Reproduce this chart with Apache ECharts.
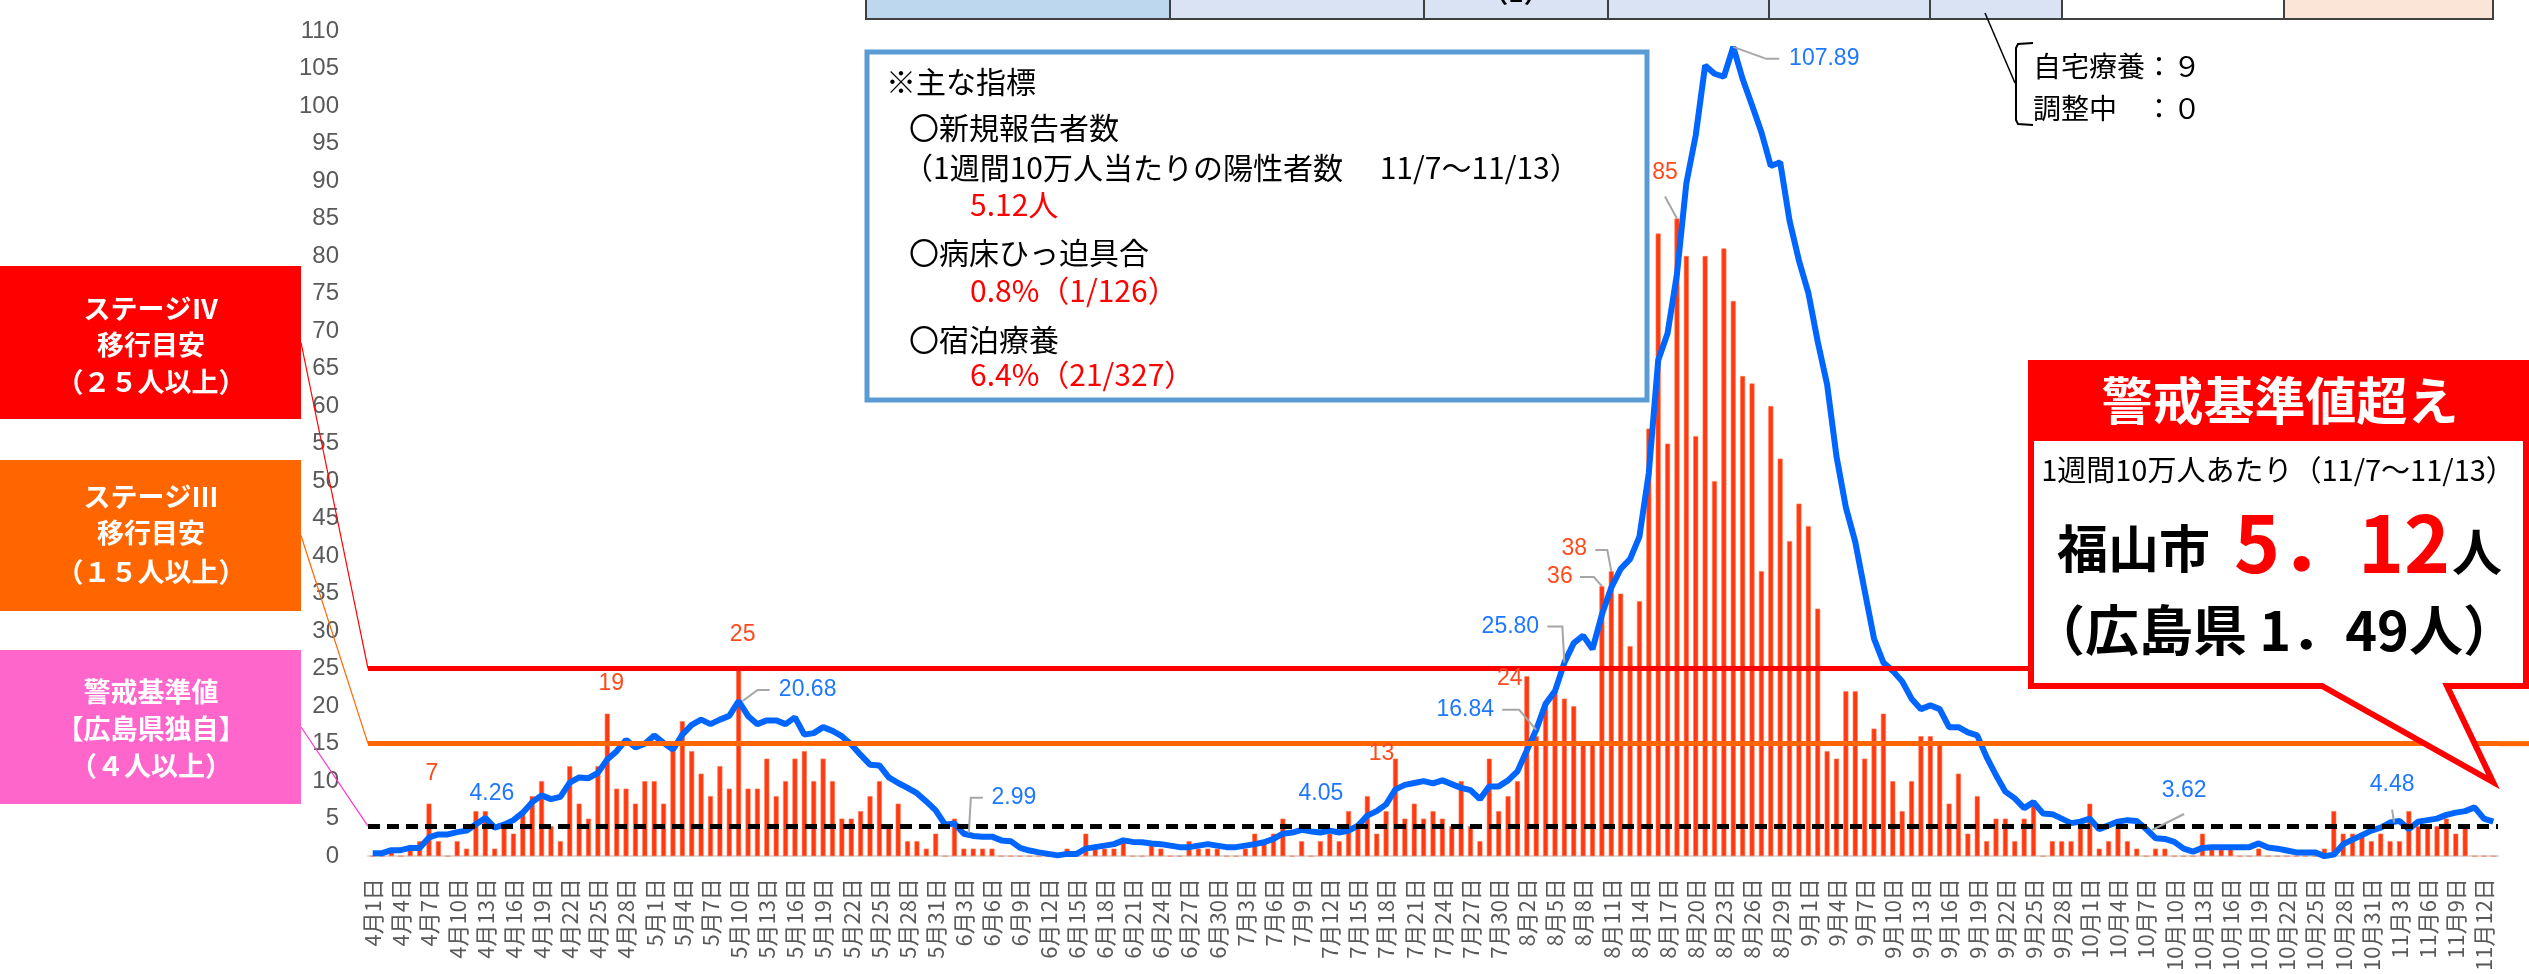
<!DOCTYPE html>
<html>
<head>
<meta charset="utf-8">
<script src="https://cdn.jsdelivr.net/npm/echarts@6/dist/echarts.min.js"></script>
<style>
  html, body { margin: 0; padding: 0; background: #fff; }
  #main { width: 2529px; height: 974px; }
</style>
</head>
<body>
<div id="main"></div>
<script>
// 月ごとの日数（4/1〜11/13）
var monthDays = [[4, 30], [5, 31], [6, 30], [7, 31], [8, 31], [9, 30], [10, 31], [11, 13]];
var categories = [];
monthDays.forEach(function (m) {
  for (var d = 1; d <= m[1]; d++) categories.push(m[0] + '月' + d + '日');
});

// 新規陽性者数（日別）
var dailyCases = [
  0, 0, 1, 0, 1, 2, 7, 2, 0, 2,
  1, 6, 6, 1, 4, 3, 6, 8, 10, 4,
  2, 12, 7, 5, 12, 19, 9, 9, 7, 10,
  10, 7, 15, 18, 14, 11, 8, 12, 9, 25,
  9, 9, 13, 8, 10, 13, 14, 10, 13, 10,
  5, 5, 6, 8, 10, 4, 7, 2, 2, 1,
  3, 0, 5, 1, 1, 1, 1, 0, 0, 0,
  0, 0, 0, 0, 1, 0, 3, 1, 1, 1,
  2, 0, 0, 2, 1, 0, 0, 2, 1, 1,
  1, 0, 0, 1, 3, 2, 3, 5, 0, 2,
  0, 2, 3, 2, 6, 4, 8, 3, 6, 13,
  5, 7, 5, 6, 5, 4, 10, 4, 2, 13,
  6, 8, 10, 24, 16, 20, 22, 21, 20, 15,
  15, 36, 38, 35, 28, 34, 57, 83, 55, 85,
  80, 56, 80, 50, 81, 74, 64, 63, 38, 60,
  53, 42, 47, 44, 33, 14, 13, 22, 22, 13,
  17, 19, 10, 6, 10, 16, 16, 15, 7, 11,
  3, 8, 2, 5, 5, 2, 5, 7, 0, 2,
  2, 2, 4, 7, 1, 2, 4, 2, 1, 0,
  1, 1, 0, 0, 0, 3, 1, 1, 1, 0,
  0, 1, 0, 0, 0, 0, 0, 0, 1, 6,
  3, 3, 3, 2, 3, 2, 2, 6, 4, 4,
  4, 5, 3, 4, 0, 0, 0
];

// 1週間10万人当たりの陽性者数
var weeklyPer100k = [
  0.4, 0.4, 0.8, 0.8, 1.1, 1.1, 2.5, 2.9, 2.9, 3.2,
  3.4, 4.26, 5.1, 3.8, 4.2, 4.8, 5.8, 7.2, 8.1, 7.6,
  7.9, 9.8, 10.5, 10.4, 11.1, 12.9, 14.0, 15.5, 14.5, 15.0,
  16.1, 15.1, 14.2, 16.2, 17.5, 18.2, 17.6, 18.2, 18.7, 20.68,
  18.7, 17.6, 18.1, 18.1, 17.6, 18.5, 16.2, 16.4, 17.2, 16.7,
  16.0, 14.9, 13.5, 12.2, 12.1, 10.5, 9.75, 9.1, 8.4, 7.3,
  6.1, 4.2, 4.35, 2.99, 2.7, 2.6, 2.6, 2.1, 2.0, 1.1,
  0.75, 0.5, 0.3, 0.1, 0.3, 0.3, 1.0, 1.2, 1.4, 1.6,
  2.1, 1.9, 1.85, 1.7, 1.6, 1.4, 1.2, 1.2, 1.4, 1.6,
  1.4, 1.2, 1.2, 1.4, 1.6, 1.85, 2.3, 3.0, 3.15, 3.5,
  3.3, 3.15, 3.4, 3.15, 3.4, 4.05, 5.4, 6.0, 6.9, 8.9,
  9.5, 9.75, 10.0, 9.7, 10.1, 9.6, 9.1, 8.8, 7.6, 9.3,
  9.3, 10.1, 11.3, 14.1, 16.84, 20.3, 22.0, 25.80, 28.4, 29.4,
  27.6, 32.2, 35.8, 38.3, 39.6, 42.6, 51.1, 66.1, 69.7, 77.6,
  89.7, 96.1, 105.4, 104.3, 103.9, 107.89, 103.6, 100.1, 96.5, 92.0,
  92.5, 84.7, 79.4, 75.1, 68.6, 62.9, 53.3, 46.5, 41.9, 35.4,
  29.0, 25.8, 24.7, 23.3, 21.0, 19.6, 20.1, 19.6, 17.2, 17.2,
  16.5, 16.1, 13.2, 10.8, 8.6, 7.7, 6.4, 7.2, 5.7, 5.6,
  5.0, 4.4, 4.6, 5.0, 3.6, 4.1, 4.6, 4.8, 4.7, 3.62,
  2.4, 2.3, 1.9, 1.0, 0.6, 1.1, 1.2, 1.2, 1.2, 1.2,
  1.2, 1.7, 1.15, 1.0, 0.75, 0.5, 0.5, 0.5, 0.0, 0.2,
  1.6, 2.2, 2.8, 3.4, 3.8, 4.48, 4.7, 3.6, 4.6, 4.8,
  5.0, 5.5, 5.8, 6.0, 6.5, 5.0, 4.6
];

// 目安の線
var stage4Line = 25;
var stage3Line = 15;
var alertLine = 4;

// ラベルを出す点（位置のずれ）
var barNotes = [
  { i: 6, dx: 3, dy: -30 },
  { i: 25, dx: 4, dy: -30 },
  { i: 39, dx: 4, dy: -34 },
  { i: 109, dx: -14, dy: -5 },
  { i: 123, dx: -17, dy: 3 },
  { i: 131, dx: -42, dy: -9, lead: [[-22, -9], [-8, -9], [0, 0]] },
  { i: 132, dx: -37, dy: -22, lead: [[-16, -21], [-4, -21], [0, 0]] },
  { i: 139, dx: -12, dy: -46, lead: [[-12, -22], [0, 0]] }
];
var lineNotes = [
  { i: 11, dx: 16, dy: -31 },
  { i: 39, dx: 69, dy: -11, lead: [[4, 0], [19, -11], [31, -11]] },
  { i: 63, dx: 50, dy: -36, lead: [[5, -1], [7, -36], [19, -36]] },
  { i: 105, dx: -37, dy: -32 },
  { i: 124, dx: -71, dy: -20, lead: [[-34, -20], [-17, -20], [0, 0]] },
  { i: 127, dx: -54, dy: -36, lead: [[-17, -36], [-2, -36], [0, 0]] },
  { i: 145, dx: 91, dy: 12, lead: [[0, 0], [33, 12], [46, 12]] },
  { i: 189, dx: 38, dy: -38, lead: [[6, 1], [38, -15]] },
  { i: 215, dx: 2, dy: -38, lead: [[2, -13], [4, 0]] }
];

var JP = '"Noto Sans CJK JP", sans-serif';
var NUM = '"Liberation Sans", Arial, sans-serif';

var chart = echarts.init(document.getElementById('main'));

var option = {
  animation: false,
  backgroundColor: '#ffffff',
  grid: { left: 368, top: 31, width: 2130, height: 826 },
  xAxis: {
    type: 'category',
    data: categories,
    boundaryGap: true,
    axisLine: { lineStyle: { color: '#D9D9D9', width: 2 } },
    axisTick: { show: false },
    axisLabel: {
      interval: 2,
      rotate: 90,
      margin: 22,
      color: '#595959',
      fontSize: 22,
      fontFamily: JP
    }
  },
  yAxis: {
    type: 'value',
    min: 0,
    max: 110,
    interval: 5,
    axisLine: { show: false },
    axisTick: { show: false },
    splitLine: { show: false },
    axisLabel: { margin: 29, color: '#595959', fontSize: 24, fontFamily: NUM }
  },
  series: [
    {
      name: '新規報告者数',
      type: 'bar',
      data: dailyCases,
      barWidth: 5,
      z: 2,
      itemStyle: { color: '#FF3A12', borderColor: '#FF7A50', borderWidth: 0.6 }
    },
    {
      name: '目安',
      type: 'line',
      data: [],
      z: 3,
      markLine: {
        silent: true,
        symbol: 'none',
        label: { show: false },
        data: [
          { yAxis: stage4Line, lineStyle: { color: '#FF0000', width: 5, type: 'solid' } },
          { yAxis: stage3Line, lineStyle: { color: '#FF6600', width: 5, type: 'solid' } },
          { yAxis: alertLine, lineStyle: { color: '#000000', width: 5, type: [12, 7] } }
        ]
      }
    },
    {
      name: '1週間10万人当たり',
      type: 'line',
      data: weeklyPer100k,
      z: 4,
      showSymbol: false,
      symbol: 'none',
      lineStyle: { color: '#0066FF', width: 6 }
    }
  ]
};
chart.setOption(option);

function pt(i, v) {
  return chart.convertToPixel({ xAxisIndex: 0, yAxisIndex: 0 }, [i, v]);
}
function txt(text, x, y, font, fill, align, vAlign, z) {
  return {
    type: 'text', z: z || 60,
    style: {
      text: text, x: x, y: y, font: font, fill: fill,
      align: align || 'left', textAlign: align || 'left',
      verticalAlign: vAlign || 'middle', textVerticalAlign: vAlign || 'middle'
    }
  };
}
function rect(x, y, w, h, fill, stroke, lw, z) {
  return {
    type: 'rect', z: z || 50,
    shape: { x: x, y: y, width: w, height: h },
    style: { fill: fill, stroke: stroke || null, lineWidth: lw || 0 }
  };
}
function poly(points, stroke, lw, z, fill) {
  return {
    type: fill ? 'polygon' : 'polyline', z: z || 55,
    shape: { points: points },
    style: { stroke: stroke, lineWidth: lw, fill: fill || null }
  };
}

var g = [];

// 上部の表（一部）
var cells = [
  [866, 1170, '#BDD7EE'], [1170, 1424, '#DAE3F3'], [1424, 1608, '#DAE3F3'],
  [1608, 1769, '#DAE3F3'], [1769, 1930, '#DAE3F3'], [1930, 2062, '#DAE3F3'],
  [2062, 2284, '#FFFFFF'], [2284, 2493, '#FBE5D6']
];
cells.forEach(function (c) { g.push(rect(c[0], -10, c[1] - c[0], 29, c[2], '#404040', 2)); });
g.push(txt('（1）', 1516, 5, 'bold 26px ' + JP, '#000', 'center', 'bottom'));
g.push(poly([[1985, 13], [2015, 83]], '#000', 1.5));
g.push(poly([[2033, 43], [2018, 44], [2016, 48], [2016, 120], [2018, 124], [2033, 125]], '#000', 2));
g.push(txt('自宅療養：９', 2033, 66, '28px ' + JP, '#000'));
g.push(txt('調整中　：０', 2033, 108, '28px ' + JP, '#000'));

// 主な指標の枠
g.push(rect(867, 52, 780, 348, '#FFFFFF', '#5B9BD5', 5));
g.push(txt('※主な指標', 886, 82, '30px ' + JP, '#000'));
g.push(txt('〇新規報告者数', 909, 128, '30px ' + JP, '#000'));
g.push(txt('（1週間10万人当たりの陽性者数　 11/7〜11/13）', 903, 168, '30px ' + JP, '#000'));
g.push(txt('5.12人', 970, 205, '30px ' + JP, '#FF0000'));
g.push(txt('〇病床ひっ迫具合', 909, 253, '30px ' + JP, '#000'));
g.push(txt('0.8%（1/126）', 970, 291, '30px ' + JP, '#FF0000'));
g.push(txt('〇宿泊療養', 909, 340, '30px ' + JP, '#000'));
g.push(txt('6.4%（21/327）', 970, 375, '30px ' + JP, '#FF0000'));

// 左の凡例ボックス
var boxes = [
  { y: 266, h: 153, fill: '#FF0000', lines: ['ステージⅣ', '移行目安', '（２５人以上）'], ty: [309, 345, 382], v: stage4Line, c: '#FF0000' },
  { y: 460, h: 151, fill: '#FF6600', lines: ['ステージⅢ', '移行目安', '（１５人以上）'], ty: [497, 533, 572], v: stage3Line, c: '#FF6600' },
  { y: 650, h: 154, fill: '#FF66CC', lines: ['警戒基準値', '【広島県独自】', '（４人以上）'], ty: [692, 729, 766], v: alertLine, c: '#FF33CC' }
];
var gridLeft = 368, gridRight = 2498;
boxes.forEach(function (b) {
  g.push(rect(0, b.y, 301, b.h, b.fill));
  b.lines.forEach(function (s, k) {
    g.push(txt(s, 151, b.ty[k], 'bold 27px ' + JP, '#FFFFFF', 'center'));
  });
  var yv = pt(0, b.v)[1];
  g.push(poly([[301, b.y + b.h / 2], [gridLeft, yv]], b.c, 1.2, 20));
});
// 赤・橙の線を右端まで延長
[[stage4Line, '#FF0000'], [stage3Line, '#FF6600']].forEach(function (d) {
  var yv = pt(0, d[0])[1];
  g.push(poly([[gridRight, yv], [2529, yv]], d[1], 5, 5));
});

// データラベル
barNotes.forEach(function (n) {
  var p = pt(n.i, dailyCases[n.i]);
  g.push(txt(String(dailyCases[n.i]), p[0] + n.dx, p[1] + n.dy, '23px ' + NUM, '#FF4A1C', 'center', 'middle', 40));
  if (n.lead) g.push(poly(n.lead.map(function (q) { return [p[0] + q[0], p[1] + q[1]]; }), '#A6A6A6', 2, 39));
});
lineNotes.forEach(function (n) {
  var p = pt(n.i, weeklyPer100k[n.i]);
  g.push(txt(weeklyPer100k[n.i].toFixed(2), p[0] + n.dx, p[1] + n.dy, '23px ' + NUM, '#1E78FF', 'center', 'middle', 40));
  if (n.lead) g.push(poly(n.lead.map(function (q) { return [p[0] + q[0], p[1] + q[1]]; }), '#A6A6A6', 2, 39));
});

// 右の吹き出し
g.push(poly([[2031, 438], [2526, 438], [2526, 686], [2447, 686], [2493, 782], [2322, 686], [2031, 686]], '#FF0000', 6, 80, '#FFFFFF'));
g.push(rect(2028, 360, 501, 80, '#FF0000', null, 0, 81));
g.push(txt('警戒基準値超え', 2280, 401, 'bold 51px ' + JP, '#FFFFFF', 'center', 'middle', 82));
g.push(txt('1週間10万人あたり（11/7〜11/13）', 2278, 470, '29px ' + JP, '#000000', 'center', 'middle', 82));
g.push(txt('福山市', 2057, 549, 'bold 51px ' + JP, '#000000', 'left', 'middle', 82));
g.push(txt('5．12', 2234, 543, 'bold 78px ' + JP, '#FF0000', 'left', 'middle', 82));
g.push(txt('人', 2452, 552, 'bold 50px ' + JP, '#000000', 'left', 'middle', 82));
g.push(txt('（広島県 1．49人）', 2274, 630, 'bold 54px ' + JP, '#000000', 'center', 'middle', 82));

chart.setOption({ graphic: { elements: g } });
</script>
</body>
</html>
